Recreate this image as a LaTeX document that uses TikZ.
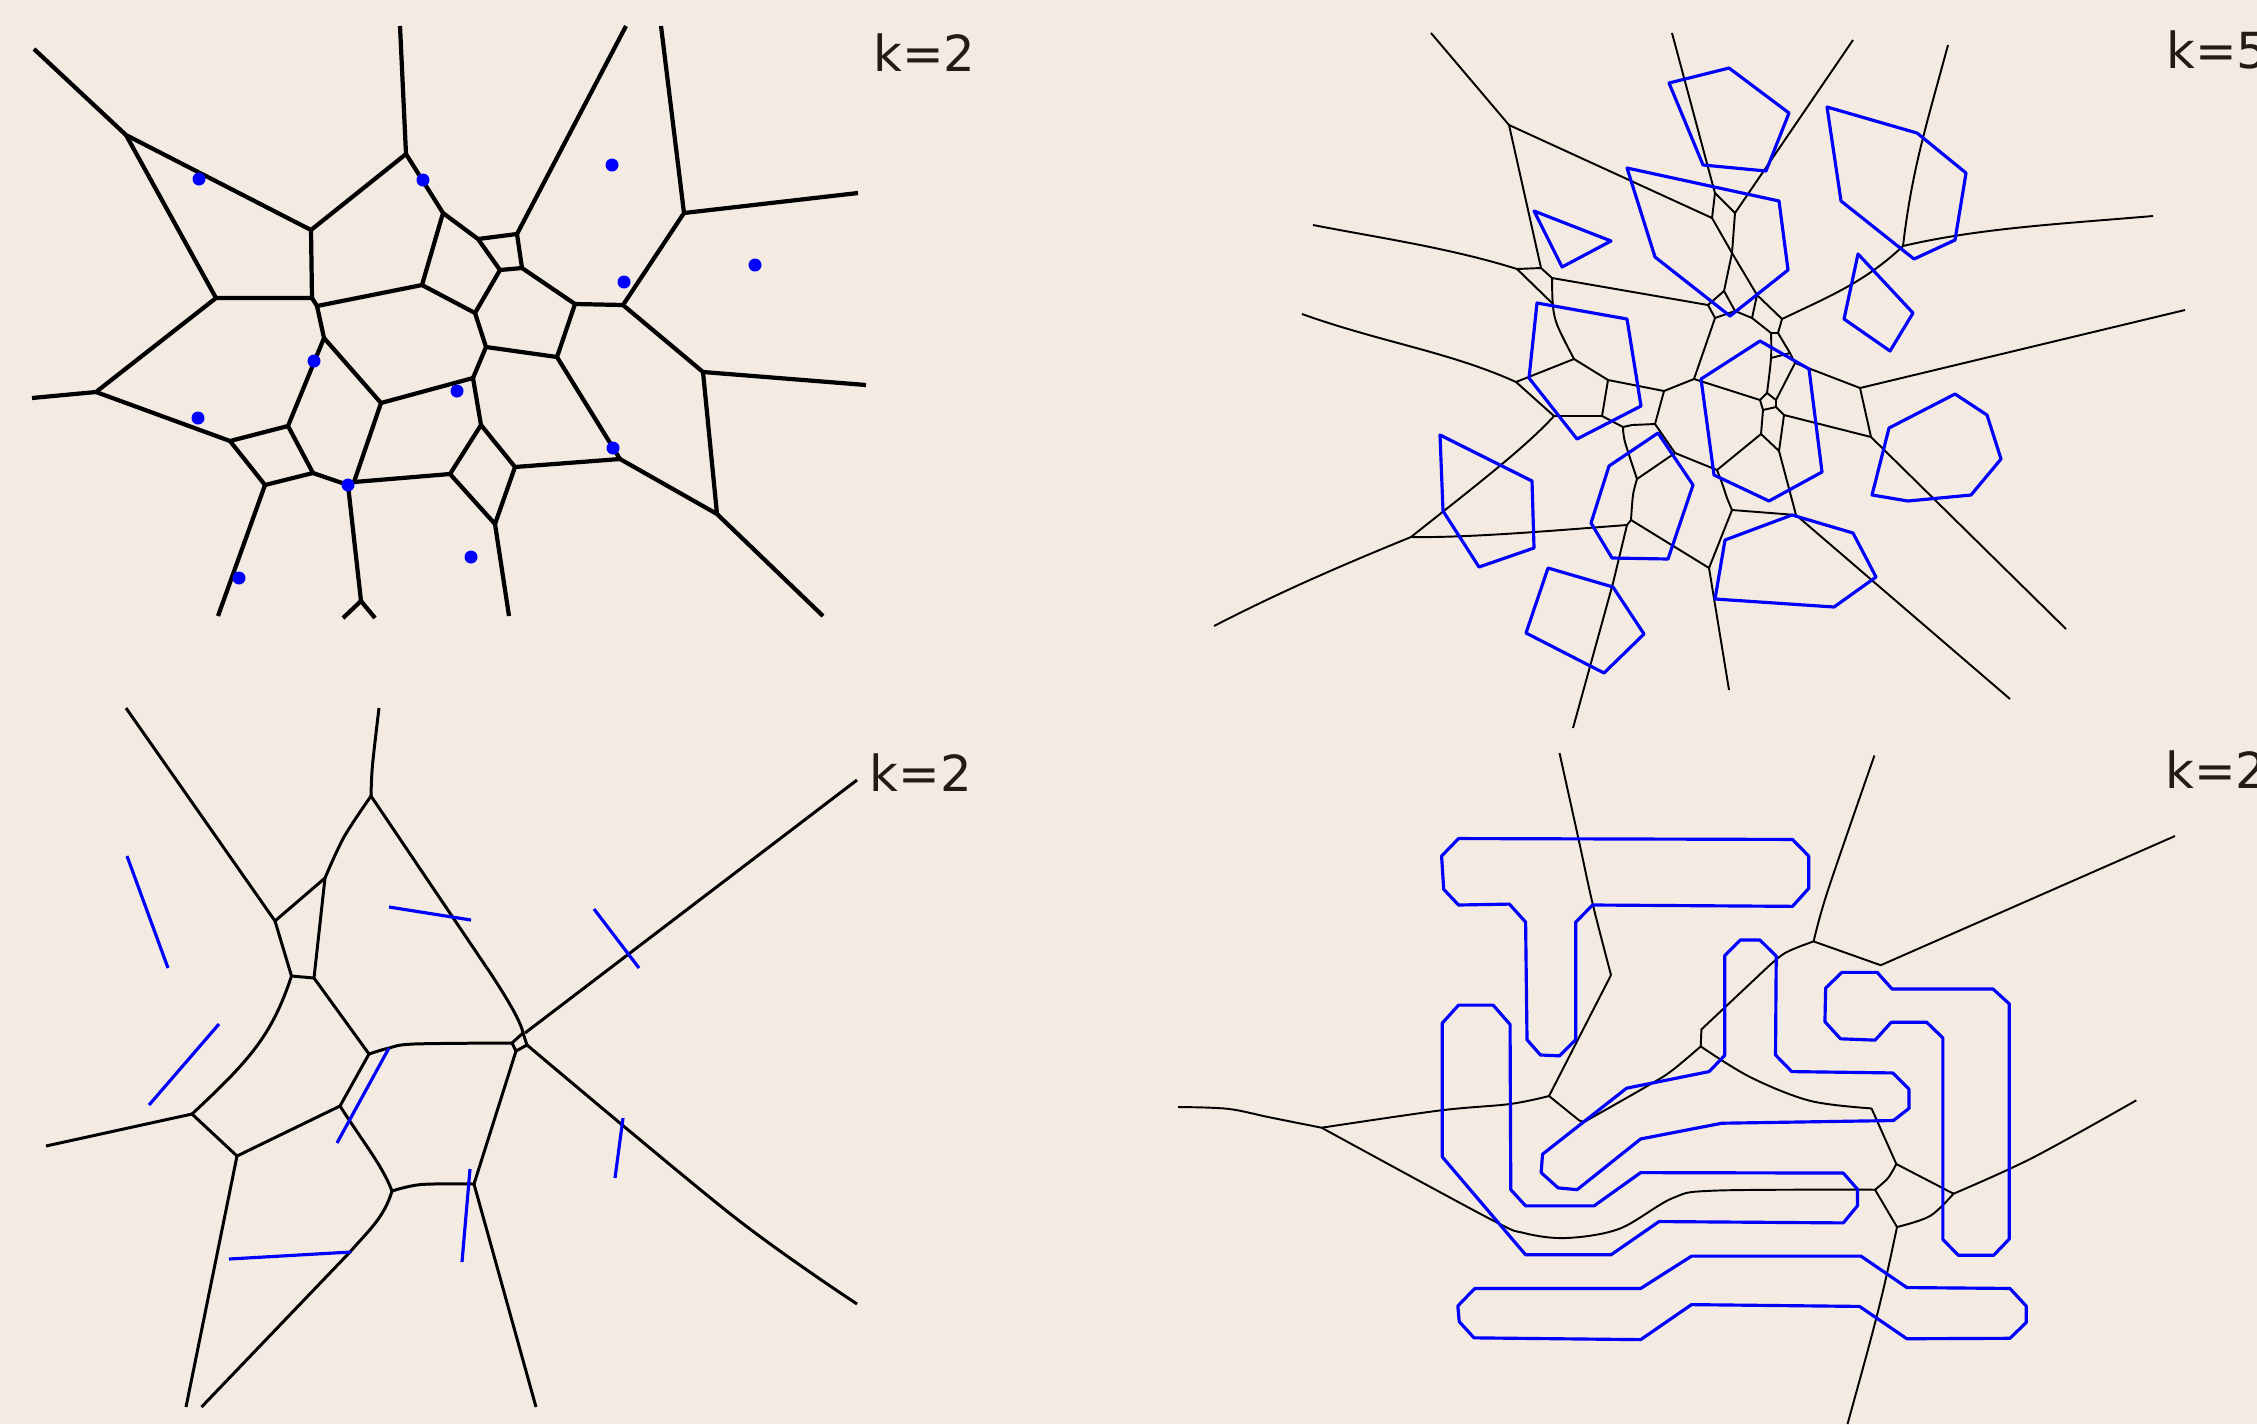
\documentclass[tikz,border=0pt]{standalone}
\usepackage{xcolor}
\usepackage{fontspec}
\setsansfont{DejaVu Sans}
\definecolor{paper}{HTML}{F3EAE1}
\definecolor{ink}{HTML}{231C14}
\definecolor{site}{HTML}{0000FF}
\tikzset{
  cell/.style={draw=black,line width=#1,line join=round},
  cell/.default=1pt,
  bound/.style={draw=site,line width=1.8pt,line join=round},
  sitedot/.style={circle,fill=site,inner sep=0pt,minimum size=7.4pt},
  klabel/.style={anchor=base west,inner sep=0pt,text=ink,font=\sffamily\fontsize{28.3}{34}\selectfont},
  soft/.style={smooth,tension=0.55},
}
\begin{document}
\begin{tikzpicture}[x=0.02cm,y=-0.02cm]
  \path[use as bounding box,clip] (0,0) rectangle (2257,1424);
  \fill[paper] (0,0) rectangle (2257,1424);
  % top left, points
  \begin{scope}[cell=2.4pt]
    \draw (34,49)--(126,135)--(311,230)--(406,154)--(400,26);
    \draw (126,135)--(216,298)--(312,298)--(317,306)--(422,285)--(443,213)--(406,154);
    \draw (311,230)--(312,298);
    \draw (216,298)--(96,392)--(32,398);
    \draw (96,392)--(230,441)--(288,426)--(324,338)--(317,306);
    \draw (324,338)--(381,403)--(354,482)--(450,474)--(481,425)--(473,378)--(381,403);
    \draw (230,441)--(265,485)--(313,473)--(288,426);
    \draw (313,473)--(348,485)--(354,482);
    \draw (265,485)--(218,616);
    \draw (348,485)--(361,601)--(343,618);
    \draw (361,601)--(375,618);
    \draw (450,474)--(495,524)--(509,616);
    \draw (495,524)--(515,467)--(481,425);
    \draw (515,467)--(620,459)--(557,357)--(486,347)--(473,378);
    \draw (486,347)--(475,313)--(422,285);
    \draw (475,313)--(500,270)--(478,239)--(443,213);
    \draw (478,239)--(517,234)--(626,26);
    \draw (517,234)--(522,268)--(500,270);
    \draw (522,268)--(575,304)--(557,357);
    \draw (575,304)--(623,305)--(684,213)--(661,26);
    \draw (684,213)--(858,193);
    \draw (623,305)--(703,372)--(866,385);
    \draw (703,372)--(717,514)--(620,459);
    \draw (717,514)--(823,616);
  \end{scope}
  \foreach \x/\y in {199/179,423/180,612/165,755/265,624/282,314/361,457/391,198/418,613/448,348/485,471/557,239/578}{
    \node[sitedot] at (\x,\y) {};
  }
  \node[klabel] at (873,71.7) {k=2};
  % top right, polygons
  \begin{scope}[cell=1.1pt]
    \draw (1431,33)--(1509,125)--(1712,218)--(1715,193)--(1713,186)--(1672,33);
    \draw (1715,193)--(1735,213)--(1853,40);
    \draw (1735,213)--(1732,253)--(1724,291)--(1708,305)--(1715,318)--(1735,311)--(1752,318)--(1771,333);
    \draw (1735,311)--(1724,291);
    \draw (1712,218)--(1732,253)--(1757,295)--(1782,319)--(1778,333)--(1771,333);
    \draw (1757,295)--(1752,318);
    \draw (1778,333)--(1790,353)--(1795,363)--(1776,400);
    \draw plot[soft] coordinates {(1771,333) (1771,358) (1767,393)};
    \draw (1771,358)--(1790,353);
    \draw (1782,319) .. controls (1830,296) and (1865,282) .. (1903,246);
    \draw (1948,45) .. controls (1925,130) and (1912,170) .. (1903,246);
    \draw (1903,246) .. controls (1980,228) and (2060,224) .. (2153,216);
    \draw (1795,363)--(1860,388)--(2185,310);
    \draw (1860,388)--(1871,437)--(1784,415)--(1776,407);
    \draw (1760,400)--(1767,393)--(1776,400)--(1776,407)--(1763,410)--cycle;
    \draw (1760,400)--(1694,379)--(1715,318);
    \draw (1694,379)--(1664,391);
    \draw (1763,410)--(1761,434)--(1717,470);
    \draw (1761,434)--(1779,451)--(1784,415);
    \draw (1779,451)--(1796,515)--(2010,699);
    \draw (1871,437)--(2066,629);
    \draw plot[soft] coordinates {(1717,470) (1722,483) (1727,498) (1732,510)};
    \draw (1732,510)--(1796,515);
    \draw (1732,510)--(1709,568)--(1631,520);
    \draw (1709,568)--(1729,690);
    \draw (1717,470)--(1675,453)--(1655,424)--(1664,391);
    \draw (1675,453)--(1637,479);
    \draw plot[soft] coordinates {(1637,479) (1625,442) (1623,427)};
    \draw (1623,427)--(1632,425)--(1655,424);
    \draw plot[soft] coordinates {(1637,479) (1633,495) (1631,520)};
    \draw (1631,520)--(1627,525)--(1613,583)--(1573,728);
    \draw (1627,525) .. controls (1560,530) and (1470,538) .. (1411,537);
    \draw (1411,537) .. controls (1340,566) and (1280,592) .. (1214,626);
    \draw (1411,537) .. controls (1470,490) and (1525,448) .. (1554,416);
    \draw (1554,416)--(1602,416)--(1623,427);
    \draw (1602,416)--(1608,380)--(1664,391);
    \draw (1608,380)--(1574,359)--(1516,382)--(1554,416);
    \draw plot[soft] coordinates {(1574,359) (1558,327) (1553,307) (1552,278)};
    \draw (1552,278)--(1708,305);
    \draw (1552,278)--(1541,268)--(1509,125);
    \draw (1541,268)--(1517,269)--(1553,304);
    \draw (1517,269) .. controls (1450,248) and (1380,238) .. (1313,225);
    \draw (1516,382) .. controls (1450,352) and (1380,342) .. (1302,314);
  \end{scope}
  \draw[bound] (1669,83)--(1729,68)--(1789,113)--(1766,171)--(1703,165)--cycle;
  \draw[bound] (1827,107)--(1917,133)--(1966,173)--(1955,240)--(1914,259)--(1841,201)--cycle;
  \draw[bound] (1627,168)--(1779,201)--(1788,270)--(1730,316)--(1655,257)--cycle;
  \draw[bound] (1534,211)--(1611,241)--(1562,267)--cycle;
  \draw[bound] (1858,254)--(1913,313)--(1890,351)--(1844,319)--cycle;
  \draw[bound] (1537,303)--(1627,319)--(1641,406)--(1577,439)--(1529,378)--cycle;
  \draw[bound] (1701,379)--(1760,341)--(1809,369)--(1822,472)--(1769,501)--(1714,475)--cycle;
  \draw[bound] (1658,433)--(1609,466)--(1591,523)--(1612,558)--(1668,559)--(1693,485)--cycle;
  \draw[bound] (1792,515)--(1853,533)--(1876,577)--(1834,607)--(1715,599)--(1725,540)--cycle;
  \draw[bound] (1548,568)--(1613,587)--(1644,634)--(1604,673)--(1526,633)--cycle;
  \draw[bound] (1440,435)--(1532,481)--(1534,548)--(1479,567)--(1443,511)--cycle;
  \draw[bound] (1889,428)--(1955,394)--(1987,415)--(2001,459)--(1971,495)--(1908,501)--(1872,495)--cycle;
  \node[klabel] at (2166,68) {k=5};
  % bottom left, segments
  \begin{scope}[cell=1.7pt]
    \draw (126,708)--(275,921)--(325,878)--(314,978)--(369,1054)--(340,1106)--(237,1156)--(192,1114)--(46,1146);
    \draw (275,921)--(291.5,976)--(314,978);
    \draw (237,1156)--(186,1407);
    \draw plot[soft] coordinates {(379,708) (372.5,765) (371,796)};
    \draw plot[soft] coordinates {(371,796) (344,837) (325,878)};
    \draw (291.5,976) .. controls (272,1035) and (250,1060) .. (192,1114);
    \draw (340,1106) .. controls (365,1145) and (382,1165) .. (392,1191);
    \draw plot[soft] coordinates {(392,1191) (421,1184.5) (474,1184)};
    \draw (474,1184)--(536,1407);
    \draw (392,1191) .. controls (384,1218) and (368,1231) .. (350,1252) -- (201.5,1407);
    \draw (474,1184)--(516,1051);
    \draw plot[soft] coordinates {(369,1054) (389,1048) (414,1044) (512,1043)};
    \draw (512,1043)--(516,1051)--(527,1045)--(523,1033)--cycle;
    \draw (371,796)--(491,974) .. controls (508,1000) and (521,1022) .. (523,1033);
    \draw (525,1033)--(857,780);
    \draw plot[soft] coordinates {(527,1045) (733,1216) (857,1304)};
  \end{scope}
  \foreach \xa/\ya/\xb/\yb in {127/856/168/968,389/907/471/920,594/909/639/968,219/1024/149/1105,389/1048/337/1143,623/1118/615/1178,470/1169/462/1262,229/1259/351/1252}{
    \draw[bound] (\xa,\ya)--(\xb,\yb);
  }
  \node[klabel] at (869.5,791.5) {k=2};
  % bottom right, polylines
  \begin{scope}[cell=1.1pt]
    \draw plot[soft] coordinates {(1559.5,753) (1578.5,839) (1592.7,904) (1611,975)};
    \draw (1611,975)--(1549,1096);
    \draw plot[soft] coordinates {(1549,1096) (1510,1104) (1439.5,1110.5) (1321.6,1127.7)};
    \draw plot[soft] coordinates {(1321.6,1127.7) (1270,1117.4) (1227.7,1108.8) (1178,1107)};
    \draw (1549,1096)--(1579.3,1120.5)--(1584,1122);
    \draw plot[soft] coordinates {(1584,1122) (1651.3,1083.7) (1672.4,1070.2) (1700.7,1046.4)};
    \draw (1700.7,1046.4)--(1701.4,1029.4)--(1764,970.5);
    \draw plot[soft] coordinates {(1764,970.5) (1785,953) (1813.6,941.4)};
    \draw plot[soft] coordinates {(1813.6,941.4) (1827.8,890.6) (1874.4,755.5)};
    \draw (1813.6,941.4)--(1880.7,965.2)--(2175,836);
    \draw plot[soft] coordinates {(1700.7,1046.4) (1750,1077) (1810,1100.8) (1871.5,1108.4)};
    \draw (1871.5,1108.4)--(1896.3,1164)--(1953.5,1193.7);
    \draw plot[soft] coordinates {(1953.5,1193.7) (2032.5,1157.8) (2136.3,1100.3)};
    \draw plot[soft] coordinates {(1896.3,1164) (1888,1178) (1875,1189.7)};
    \draw (1875,1189.7)--(1897,1227);
    \draw plot[soft] coordinates {(1897,1227) (1930,1216) (1953.5,1193.7)};
    \draw plot[soft] coordinates {(1897,1227) (1884.2,1285.7) (1870,1342) (1847.5,1424)};
    \draw plot[soft] coordinates {(1875,1189.7) (1714.8,1190.6) (1672.4,1198.2) (1619.5,1228.7) (1566.5,1238) (1524,1233) (1489,1218.4) (1321.6,1127.7)};
  \end{scope}
  \begin{scope}[shift={(1150,720)},xscale=0.706,yscale=0.449]
    \draw[bound] (437,264)--(910,266)--(933,303)--(933,375)--(910,415)--(627,412)--(603,450)--(603,712)--(580,748)--(553,746)--(534,712)--(532,450)--(509,410)--(437,412)--(416,377)--(413,303)--cycle;
    \draw[bound] (836,490)--(864,490)--(887,526)--(886,746)--(909,783)--(1052,786)--(1075,822)--(1075,865)--(1053,892)--(810,898)--(695,933)--(605,1046)--(578,1042)--(554,1008)--(556,967)--(675,820)--(792,783)--(814,747)--(814,525)--cycle;
    \draw[bound] (980,562)--(1030,562)--(1051,599)--(1194,599)--(1217,632)--(1217,1156)--(1195,1192)--(1145,1192)--(1123,1157)--(1123,708)--(1100,673)--(1050,673)--(1027,713)--(978,710)--(956,672)--(957,597)--cycle;
    \draw[bound] (437,635)--(486,635)--(510,678)--(511,1046)--(532,1082)--(629,1082)--(695,1008)--(982,1009)--(1002,1045)--(1002,1082)--(982,1120)--(721,1117)--(653,1191)--(532,1191)--(414,973)--(414,675)--cycle;
    \draw[bound] (460,1266)--(695,1266)--(767,1194)--(1007,1194)--(1072,1264)--(1218,1266)--(1241,1305)--(1241,1342)--(1218,1377)--(1072,1378)--(1005,1306)--(767,1302)--(695,1380)--(459,1376)--(438,1340)--(436,1305)--cycle;
  \end{scope}
  \node[klabel] at (2165,788) {k=2};
\end{tikzpicture}
\end{document}
